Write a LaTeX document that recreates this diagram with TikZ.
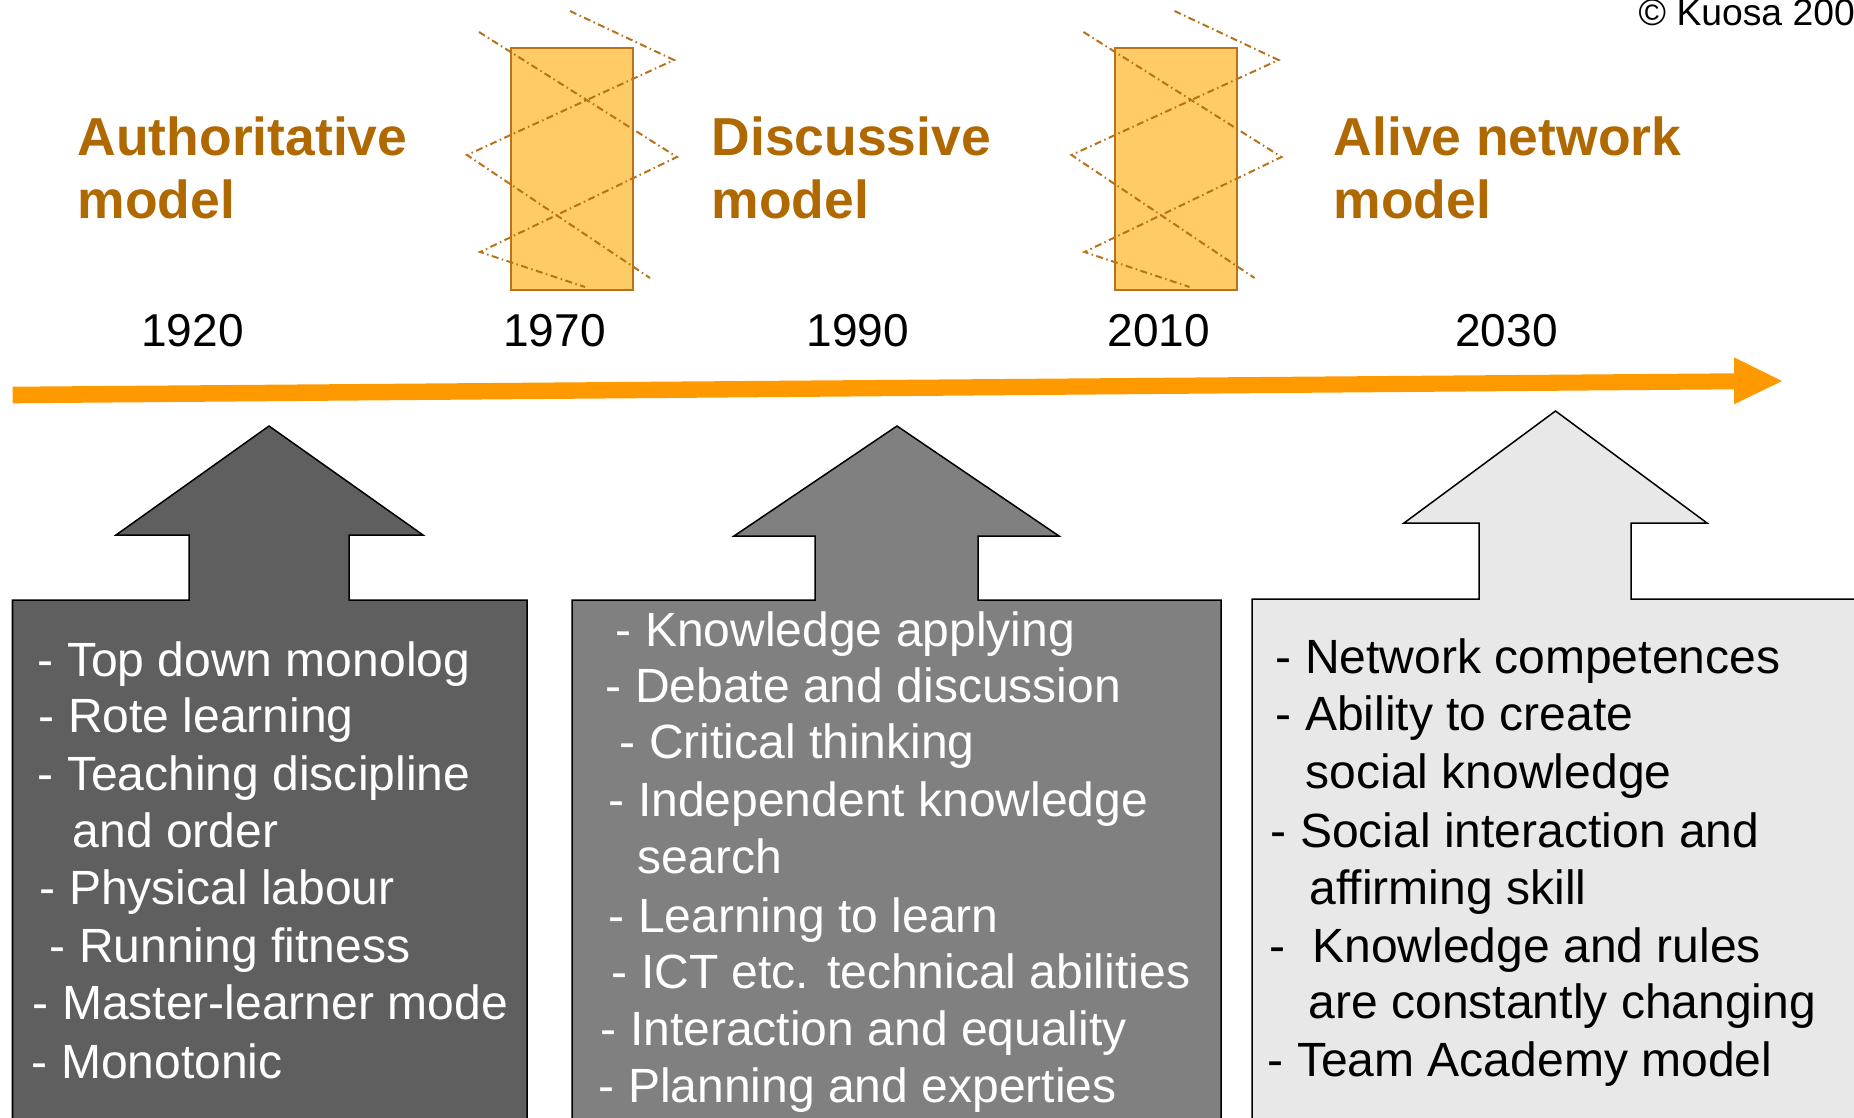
\documentclass[tikz,border=0pt]{standalone}
\usepackage{fontspec}
\setmainfont{Liberation Sans}
\definecolor{modelbrown}{RGB}{176,104,0}
\definecolor{framebrown}{RGB}{184,114,26}
\definecolor{barfill}{RGB}{254,203,102}
\definecolor{lineorange}{RGB}{255,153,0}
\definecolor{darkbox}{RGB}{95,95,95}
\definecolor{midbox}{RGB}{128,128,128}
\definecolor{lightbox}{RGB}{232,232,232}

\begin{document}
\begin{tikzpicture}[x=0.01cm, y=-0.01cm]
      \tikzset{modeltitle/.style={anchor=base west, inner sep=0pt, text=modelbrown, font=\fontsize{15.2}{18}\selectfont\bfseries},
        year/.style={anchor=base, inner sep=0pt, font=\fontsize{13.1}{16}\selectfont},
        item/.style={anchor=base west, inner sep=0pt, font=\fontsize{13.66}{16}\selectfont},
        period/.style={draw=framebrown, fill=barfill, line width=0.02cm, minimum width=1.22cm, minimum height=2.42cm, inner sep=0pt},
        zigzag/.style={draw=framebrown, line width=0.02cm, dash pattern=on 0.07cm off 0.035cm on 0.015cm off 0.035cm},
        upbox/.style={draw=black, line width=0.015cm}}

      \useasboundingbox (0,0) rectangle (1854,1117);

      % time line
      \fill[lineorange] (12.5,386.7) -- (1734,373.3) -- (1734,357.3) -- (1782,381) -- (1734,404.3) -- (1734,389.3) -- (12.5,403.3) -- cycle;

      % transition periods
      \node[period] (gap1) at (572,168.7) {};
      \node[period] (gap2) at (1176.4,168.7) {};
      \foreach \dx in {0,604.5} {
        \draw[zigzag, shift={(\dx,0)}] (570,11) -- (674,60) -- (467,155) -- (650,278);
        \draw[zigzag, shift={(\dx,0)}] (479,32) -- (677,157) -- (480,252) -- (585,287);
      }

      % up arrows with boxes
      \draw[upbox, fill=darkbox] (12.5,1130) -- (12.5,600) -- (189,600) -- (189,535) -- (116,535) -- (269,426) -- (423,535) -- (349,535) -- (349,600) -- (527,600) -- (527,1130);
      \draw[upbox, fill=midbox] (572,1130) -- (572,600) -- (815,600) -- (815,536) -- (734,536) -- (897,426) -- (1059,536) -- (978,536) -- (978,600) -- (1221,600) -- (1221,1130);
      \draw[upbox, fill=lightbox] (1252,1130) -- (1252,599) -- (1479,599) -- (1479,523) -- (1404,523) -- (1555.5,411) -- (1707,523) -- (1631,523) -- (1631,599) -- (1870,599) -- (1870,1130);

      \node[modeltitle] (auth1) at (77,155) {Authoritative};
      \node[modeltitle] (auth2) at (77,218) {model};
      \node[modeltitle] (disc1) at (711,155) {Discussive};
      \node[modeltitle] (disc2) at (711,218) {model};
      \node[modeltitle] (alive1) at (1333,155) {Alive network};
      \node[modeltitle] (alive2) at (1333,218) {model};

      \node[year] (y1920) at (192.5,346) {1920};
      \node[year] (y1970) at (554.6,346) {1970};
      \node[year] (y1990) at (858,346) {1990};
      \node[year] (y2010) at (1159,346) {2010};
      \node[year] (y2030) at (1506.5,346) {2030};

      \node[anchor=base west, inner sep=0pt, font=\fontsize{10.6}{12}\selectfont] (copy) at (1638,25) {© Kuosa 200};

      \foreach \px/\py/\txt [count=\i] in {37/676/- Top down monolog, 38/732/- Rote learning, 37/790/- Teaching discipline, 72/847/and order, 39/904/- Physical labour, 49/962/- Running fitness, 32/1019/- Master-learner mode, 31/1078/- Monotonic}
        \node[item, text=white] (auth\i) at (\px,\py) {\txt};

      \foreach \px/\py/\txt [count=\i] in {615/646/- Knowledge applying, 605/702/- Debate and discussion, 619/758/- Critical thinking, 608/816/- Independent knowledge, 637/873/search, 608/932/- Learning to learn, 611/988/- ICT etc. technical abilities, 600/1045/- Interaction and equality, 598/1102/- Planning and experties}
        \node[item, text=white] (disc\i) at (\px,\py) {\txt};

      \foreach \px/\py/\txt [count=\i] in {1275/673/- Network competences, 1275/730/- Ability to create, 1305/788/social knowledge, 1270/847/- Social interaction and, 1309/904/affirming skill, 1269/962/-\ \ Knowledge and rules, 1308/1018/are constantly changing, 1267/1076/- Team Academy model}
        \node[item] (alive\i) at (\px,\py) {\txt};
\end{tikzpicture}
\end{document}
